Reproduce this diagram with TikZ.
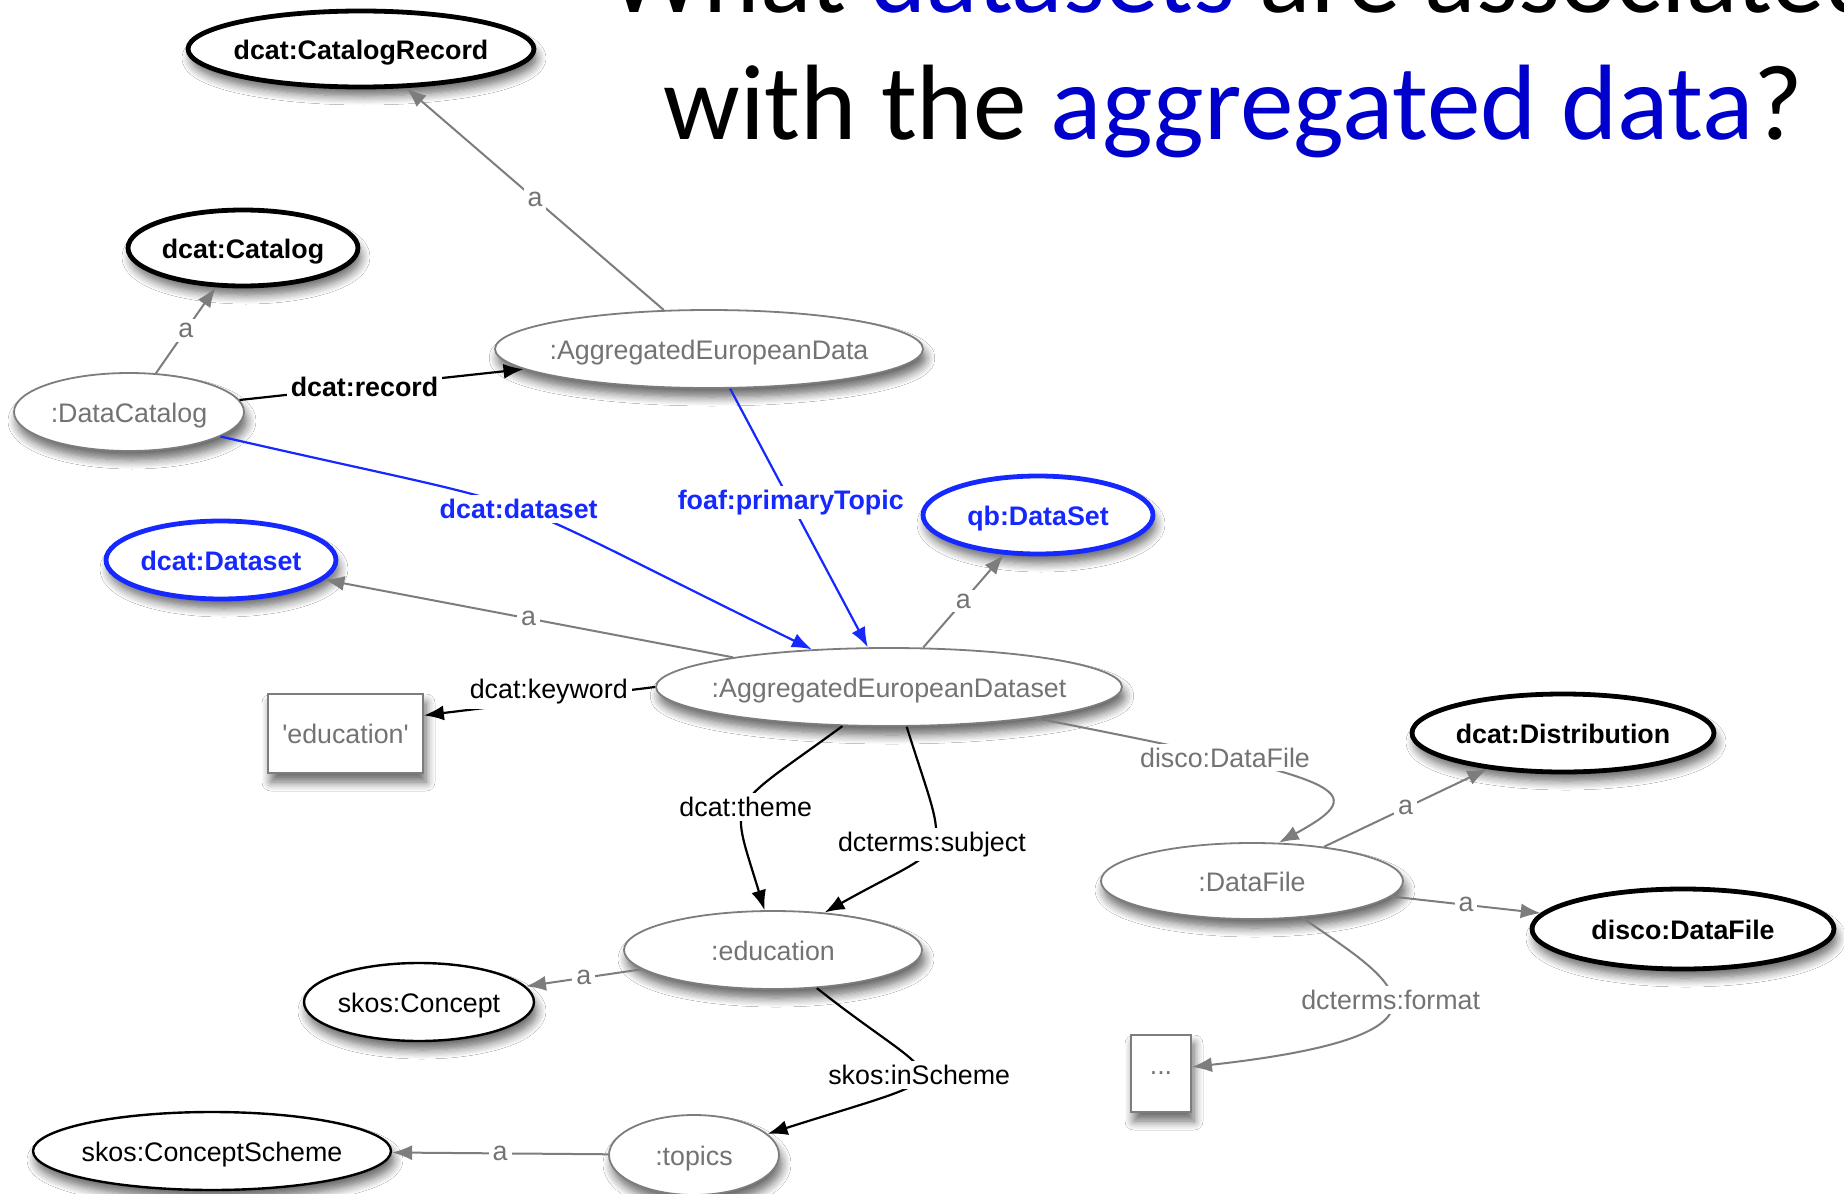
\documentclass[tikz,border=0pt]{standalone}
\usepackage{fontspec}
\setmainfont{Liberation Sans}
\newfontfamily\titlefont{Carlito}
\usetikzlibrary{shapes.geometric,arrows.meta,shadows.blur}
\definecolor{ttlblue}{RGB}{0,0,204}
\definecolor{lnblue}{RGB}{20,40,255}
\definecolor{gtext}{RGB}{115,115,115}
\definecolor{gline}{RGB}{125,125,125}
\newcommand{\ctext}[1]{\makebox[0pt][c]{#1}}
\newcommand{\fs}{\fontsize{13.4}{15}\selectfont}
\tikzset{
  shad/.style={blur shadow={shadow xshift=1.5pt, shadow yshift=-4.5pt, shadow blur radius=4.5pt, shadow blur steps=8, shadow opacity=60}},
  base/.style={ellipse, inner sep=0pt, fill=white, shad, font=\fs, text height=11pt, text depth=0.5pt},
  cls/.style={base, draw=black, line width=2.4pt, font=\fs\bfseries},
  clsblue/.style={base, draw=lnblue, line width=2.4pt, text=lnblue, font=\fs\bfseries},
  inst/.style={base, draw=gline, line width=0.9pt, text=gtext},
  plain/.style={base, draw=black, line width=1.2pt},
  lit/.style={rectangle, inner sep=0pt, fill=white, draw=gline, line width=0.9pt, text=gtext, font=\fs, shad},
  arr/.style={-{Latex[length=10pt,width=7.5pt]}},
  isa/.style={arr, draw=gline, line width=1pt},
  blk/.style={arr, draw=black, line width=1.1pt},
  blu/.style={arr, draw=lnblue, line width=1.1pt},
  elab/.style={fill=white, inner sep=2pt, font=\fs, text=black},
  alab/.style={elab, text=gtext},
  glab/.style={elab, text=gtext},
  blab/.style={elab, text=lnblue, font=\fs\bfseries},
  bklab/.style={elab, font=\fs\bfseries},
}
\begin{document}
\begin{tikzpicture}[x=0.5pt, y=-0.5pt]
\useasboundingbox (0,0) rectangle (1844,1194);
\fill[white] (0,0) rectangle (1844,1194);
% title
\begin{scope}
\clip (0,0) rectangle (1844,1194);
\node[anchor=base west, inner sep=0pt, font=\titlefont\fontsize{53.6}{60}\selectfont] (t1) at (608,12) {What \textcolor{ttlblue}{datasets} are associated};
\node[anchor=base west, inner sep=0pt, font=\titlefont\fontsize{53.6}{60}\selectfont] (t2) at (663,139) {with the \textcolor{ttlblue}{aggregated data}?};
\end{scope}
% nodes
\node[cls, minimum width=173pt, minimum height=38pt] (CatRec) at (361,49) {\ctext{dcat:CatalogRecord}};
\node[cls, minimum width=115pt, minimum height=38pt] (Catalog) at (243,248) {\ctext{dcat:Catalog}};
\node[inst, minimum width=214pt, minimum height=39pt] (AggData) at (709,349) {\ctext{:AggregatedEuropeanData}};
\node[inst, minimum width=115pt, minimum height=39pt] (DataCatalog) at (129,412) {\ctext{:DataCatalog}};
\node[clsblue, minimum width=115pt, minimum height=39pt] (qbDataSet) at (1038,515) {\ctext{qb:DataSet}};
\node[clsblue, minimum width=115pt, minimum height=39pt] (dcatDataset) at (221,560) {\ctext{dcat:Dataset}};
\node[inst, minimum width=233pt, minimum height=39pt] (AggDataset) at (889,687) {\ctext{:AggregatedEuropeanDataset}};
\node[lit, minimum width=77.5pt, minimum height=39.5pt] (kw) at (345.5,733.5) {\textquotesingle education\textquotesingle};
\node[cls, minimum width=151pt, minimum height=39pt] (Distribution) at (1563,733) {\ctext{dcat:Distribution}};
\node[inst, minimum width=151pt, minimum height=38pt] (DataFile) at (1252,881) {\ctext{:DataFile}};
\node[cls, minimum width=151pt, minimum height=40pt] (discoDF) at (1683,929) {\ctext{disco:DataFile}};
\node[inst, minimum width=149pt, minimum height=39pt] (educ) at (773,950) {\ctext{:education}};
\node[plain, minimum width=115pt, minimum height=39pt] (skosConcept) at (419,1002) {\ctext{skos:Concept}};
\node[lit, minimum width=30pt, minimum height=38.5pt] (dots) at (1161,1073.5) {...};
\node[plain, minimum width=179pt, minimum height=39pt] (ConceptScheme) at (212,1151) {\ctext{skos:ConceptScheme}};
\node[inst, minimum width=85pt, minimum height=40pt] (topics) at (694,1155) {\ctext{:topics}};
% edges
\draw[isa] (AggData) -- node[alab]{a} (CatRec);
\draw[isa] (DataCatalog) -- node[alab]{a} (Catalog);
\draw[blk] (DataCatalog) -- node[bklab, pos=0.44]{dcat:record} (AggData);
\draw[blu] (DataCatalog.-15) .. controls (584,520) and (455,475) .. node[blab]{dcat:dataset} (AggDataset.154);
\draw[blu] (AggData) -- node[blab, pos=0.44]{foaf:primaryTopic} (AggDataset);
\draw[isa] (AggDataset) -- node[alab]{a} (qbDataSet);
\draw[isa] (AggDataset) -- node[alab]{a} (dcatDataset);
\draw[blk] (AggDataset.west) -- node[elab, pos=0.46, yshift=4pt]{dcat:keyword} (kw.13);
\draw[blk] (AggDataset.-140) .. controls (724,813) and (729,793) .. node[elab]{dcat:theme} (educ.102);
\draw[blk] (AggDataset.-66) .. controls (951,868) and (957,838) .. node[elab]{dcterms:subject} (educ.36);
\draw[isa] (AggDataset.-12) .. controls (1350,780) and (1375,790) .. node[glab, pos=0.26]{disco:DataFile} (DataFile.55);
\draw[isa] (DataFile) -- node[alab]{a} (Distribution);
\draw[isa] (DataFile) -- node[alab]{a} (discoDF);
\draw[isa] (DataFile.-36) .. controls (1380,973) and (1497,1033) .. node[glab]{dcterms:format} (dots.12);
\draw[isa] (educ) -- node[alab]{a} (skosConcept);
\draw[blk] (educ.-41) .. controls (948,1092) and (975,1068) .. node[elab]{skos:inScheme} (topics.16);
\draw[isa] (topics) -- node[alab]{a} (ConceptScheme);
\end{tikzpicture}
\end{document}
